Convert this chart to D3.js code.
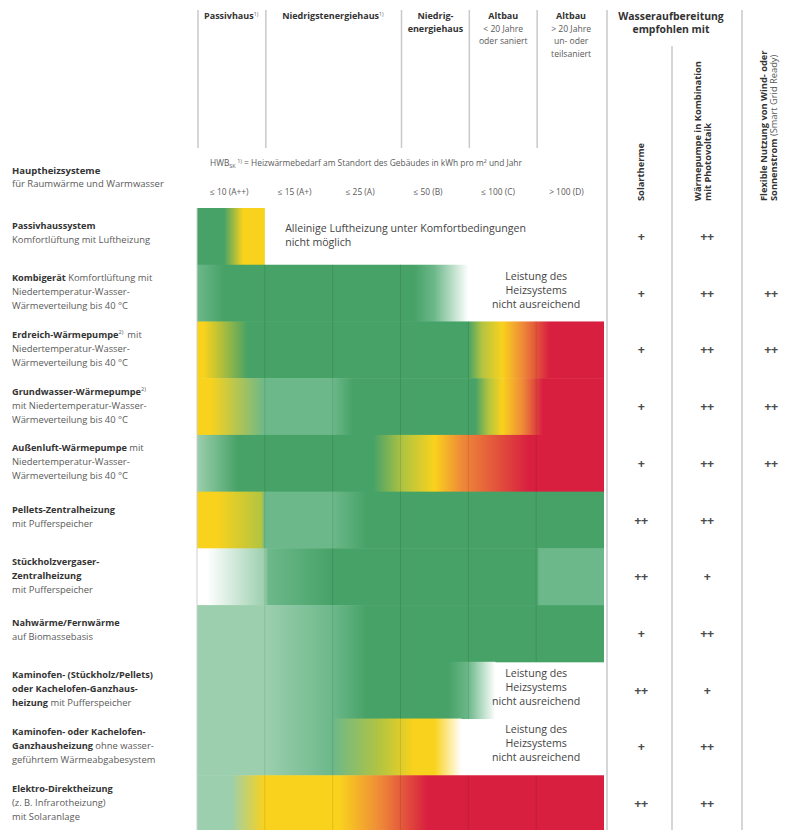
<!DOCTYPE html>
<html>
<head>
<meta charset="utf-8">
<script src="https://cdn.jsdelivr.net/npm/d3@7"></script>
<style>
  body { margin: 0; background: #fff; }
  svg { font-family: "Open Sans", sans-serif; }
</style>
</head>
<body>
<script>
// energy classes along the x axis
var hwbClasses = ["≤ 10 (A++)", "≤ 15 (A+)", "≤ 25 (A)", "≤ 50 (B)", "≤ 100 (C)", "> 100 (D)"];

// building type headers, with the class columns they cover
var buildingHeads = [
  ["**Passivhaus^1)"],
  ["**Niedrigstenergiehaus^1)"],
  ["**Niedrig-", "**energiehaus"],
  ["**Altbau", "< 20 Jahre", "oder saniert"],
  ["**Altbau", "> 20 Jahre", "un- oder", "teilsaniert"]
];
var buildingSpans = [[0, 1], [1, 3], [3, 4], [4, 5], [5, 6]];

// heating systems (rows)
var systems = [
  ["**Passivhaussystem", "Komfortlüftung mit Luftheizung"],
  ["**Kombigerät** Komfortlüftung mit", "Niedertemperatur-Wasser-", "Wärmeverteilung bis 40 °C"],
  ["**Erdreich-Wärmepumpe^2)** mit", "Niedertemperatur-Wasser-", "Wärmeverteilung bis 40 °C"],
  ["**Grundwasser-Wärmepumpe^2)", "mit Niedertemperatur-Wasser-", "Wärmeverteilung bis 40 °C"],
  ["**Außenluft-Wärmepumpe** mit", "Niedertemperatur-Wasser-", "Wärmeverteilung bis 40 °C"],
  ["**Pellets-Zentralheizung", "mit Pufferspeicher"],
  ["**Stückholzvergaser-", "**Zentralheizung", "mit Pufferspeicher"],
  ["**Nahwärme/Fernwärme", "auf Biomassebasis"],
  ["**Kaminofen- (Stückholz/Pellets)", "**oder Kachelofen-Ganzhaus-", "**heizung** mit Pufferspeicher"],
  ["**Kaminofen- oder Kachelofen-", "**Ganzhausheizung** ohne wasser-", "geführtem Wärmeabgabesystem"],
  ["**Elektro-Direktheizung", "(z. B. Infrarotheizung)", "mit Solaranlage"]
];

// suitability along the classes: [class position, rating]
var suitability = [
  [[0, "g"], [0.4, "g"], [0.68, "y"], [1, "y"]],
  [[0, "mg"], [0.4, "g"], [3.2, "g"], [3.5, "mg"], [4, "w"]],
  [[0, "y"], [0.1, "y"], [0.75, "g"], [4, "g"], [4.2, "yg"], [4.5, "y"], [4.8, "o"], [5.2, "r"], [6, "r"]],
  [[0, "y"], [0.2, "y"], [1, "mg"], [2, "mg"], [2.3, "g"], [4.1, "g"], [4.3, "yg"], [4.5, "y"], [4.8, "o"], [5.1, "r"], [6, "r"]],
  [[0, "lg"], [0.6, "g"], [2.6, "g"], [3.05, "yg"], [3.5, "y"], [3.9, "o"], [4.9, "r"], [6, "r"]],
  [[0, "y"], [0.3, "y"], [0.95, "yg"], [1, "mg"], [2, "mg"], [2.5, "g"], [6, "g"]],
  [[0, "w"], [0.15, "w"], [1, "lg"], [1.05, "mg"], [2, "g"], [5, "g"], [5.05, "mg"], [6, "mg"]],
  [[0, "lg"], [1, "lg"], [2, "mg"], [2.5, "g"], [6, "g"]],
  [[0, "lg"], [1, "lg"], [2, "mg"], [2.5, "g"], [3.7, "g"], [4, "mg"], [4.4, "w"]],
  [[0, "lg"], [1, "lg"], [2, "mg"], [2.7, "yg"], [3.2, "y"], [3.5, "y"], [3.9, "w"]],
  [[0, "lg"], [0.5, "lg"], [1, "y"], [2.1, "y"], [2.7, "o"], [3.4, "r"], [6, "r"]]
];

var ratingKeys = ["w", "lg", "mg", "g", "yg", "y", "o", "r"];
var ratingColors = ["#ffffff", "#9ccfae", "#6cb88a", "#47a267", "#b3c440", "#f9d21d", "#ee8a38", "#d81f3f"];

// notes written into empty parts of rows
var notes = [
  {row: 0, lines: ["Alleinige Luftheizung unter Komfortbedingungen", "nicht möglich"], anchor: "start", at: 1.3},
  {row: 1, lines: ["Leistung des", "Heizsystems", "nicht ausreichend"], anchor: "middle", at: 5},
  {row: 8, lines: ["Leistung des", "Heizsystems", "nicht ausreichend"], anchor: "middle", at: 5},
  {row: 9, lines: ["Leistung des", "Heizsystems", "nicht ausreichend"], anchor: "middle", at: 5}
];

// recommended combinations
var solarRating = ["+", "+", "+", "+", "+", "++", "++", "+", "++", "+", "++"];
var pvRating = ["++", "++", "++", "++", "++", "++", "+", "++", "+", "++", "++"];
var gridRating = ["", "++", "++", "++", "++", "", "", "", "", "", ""];

var width = 790;
var height = 830;

var svg = d3.select("body").append("svg")
            .attr("width", width)
            .attr("height", height);

var x = d3.scaleLinear().domain([0, 6]).range([197, 604]);
var y = d3.scaleBand().domain(d3.range(systems.length)).range([208, 832]);
var color = d3.scaleOrdinal().domain(ratingKeys).range(ratingColors);

// extra columns on the right
var extraCols = ["solar", "pv", "grid"];
var extraX = d3.scaleOrdinal().domain(extraCols).range([641, 707, 771]);

// write a line with **bold** parts and ^sup) superscripts
function richText(sel, str, size, boldSize) {
  var parts = str.split("**");
  parts.forEach(function(p, i) {
    if (p === "") return;
    var bold = i % 2 === 1;
    var bits = p.split(/(\^[^)]*\))/);
    bits.forEach(function(b) {
      if (b === "") return;
      if (b[0] === "^") {
        sel.append("tspan").text(b.slice(1))
           .attr("font-size", size * 0.6).attr("dy", -size * 0.4)
           .attr("font-weight", 400).attr("fill", "#555");
        sel.append("tspan").text("\u200a").attr("dy", size * 0.4);
      } else {
        sel.append("tspan").text(b)
           .attr("font-size", bold ? (boldSize || size) : size)
           .attr("font-weight", bold ? 700 : 400)
           .attr("fill", bold ? "#333" : "#5a5a5a");
      }
    });
  });
}

// ---- header lines
var headLines = [0, 1, 3, 4, 5];
svg.selectAll(".hline").data(headLines).enter().append("line")
   .attr("x1", function(d) { return x(d) + 1; })
   .attr("x2", function(d) { return x(d) + 1; })
   .attr("y1", 10).attr("y2", 148)
   .attr("stroke", "#c9c9c9").attr("stroke-width", 1.5);

svg.selectAll(".rline").data([607, 742]).enter().append("line")
   .attr("x1", function(d) { return d; }).attr("x2", function(d) { return d; })
   .attr("y1", 10).attr("y2", height)
   .attr("stroke", "#c9c9c9").attr("stroke-width", 1.5);
svg.append("line").attr("x1", 672).attr("x2", 672).attr("y1", 46).attr("y2", height)
   .attr("stroke", "#c9c9c9").attr("stroke-width", 1.5);

// building type labels
buildingHeads.forEach(function(lines, i) {
  var cx = (x(buildingSpans[i][0]) + x(buildingSpans[i][1])) / 2 + 1;
  lines.forEach(function(l, j) {
    var t = svg.append("text").attr("x", cx).attr("y", 19 + j * 12.5)
               .attr("text-anchor", "middle");
    richText(t, l, 8.6, 9);
  });
});

// HWB legend line
var hwb = svg.append("text").attr("x", 210).attr("y", 166).attr("font-size", 8.4).attr("fill", "#5a5a5a");
hwb.append("tspan").text("HWB");
hwb.append("tspan").text("SK").attr("font-size", 5.5).attr("dy", 2);
hwb.append("tspan").text(" 1)").attr("font-size", 5.5).attr("dy", -5.5);
hwb.append("tspan").text(" = Heizwärmebedarf am Standort des Gebäudes in kWh pro m² und Jahr").attr("dy", 3.5);

svg.selectAll(".cls").data(hwbClasses).enter().append("text")
   .attr("x", function(d, i) { return x(i) + 13; })
   .attr("y", 195).attr("font-size", 8.4).attr("fill", "#5a5a5a")
   .text(function(d) { return d; });

// right headers
["Wasseraufbereitung", "empfohlen mit"].forEach(function(l, j) {
  svg.append("text").attr("x", 671).attr("y", 20 + j * 12.5)
     .attr("text-anchor", "middle").attr("font-size", 10.4)
     .attr("font-weight", 700).attr("fill", "#333").text(l);
});
var rotHeads = [
  {x: 644, lines: ["**Solartherme"]},
  {x: 701, lines: ["**Wärmepumpe in Kombination", "**mit Photovoltaik"]},
  {x: 767, lines: ["**Flexible Nutzung von Wind- oder", "**Sonnenstrom** (Smart Grid Ready)"]}
];
rotHeads.forEach(function(h) {
  h.lines.forEach(function(l, j) {
    var t = svg.append("text")
               .attr("transform", "translate(" + (h.x + j * 10) + ",201) rotate(-90)");
    richText(t, l, 9.3, 9.3);
  });
});

// left header
var lh = svg.append("text").attr("x", 12).attr("y", 174);
richText(lh, "**Hauptheizsysteme", 9.5, 9.5);
var lh2 = svg.append("text").attr("x", 12).attr("y", 187);
richText(lh2, "für Raumwärme und Warmwasser", 9.5);

// ---- gradient rows
var defs = svg.append("defs");
suitability.forEach(function(stops, i) {
  var g = defs.append("linearGradient").attr("id", "row" + i)
              .attr("gradientUnits", "userSpaceOnUse")
              .attr("x1", x(0)).attr("x2", x(6)).attr("y1", 0).attr("y2", 0);
  g.selectAll("stop").data(stops).enter().append("stop")
   .attr("offset", function(d) { return d[0] / 6; })
   .attr("stop-color", function(d) { return color(d[1]); });
});

svg.selectAll(".cell").data(suitability).enter().append("rect")
   .attr("x", x(0))
   .attr("y", function(d, i) { return y(i); })
   .attr("width", function(d) { return x(d[d.length - 1][0]) - x(0); })
   .attr("height", y.bandwidth() + 0.5)
   .attr("fill", function(d, i) { return "url(#row" + i + ")"; });

// faint class dividers on coloured parts
suitability.forEach(function(stops, i) {
  var end = stops[stops.length - 1][0];
  var ks = [1, 2, 3, 4, 5].filter(function(k) { return k < end; });
  svg.selectAll(".div" + i).data(ks).enter().append("line")
     .attr("x1", function(k) { return x(k); }).attr("x2", function(k) { return x(k); })
     .attr("y1", y(i)).attr("y2", y(i) + y.bandwidth())
     .attr("stroke", "#000").attr("stroke-opacity", 0.1).attr("stroke-width", 1);
});
svg.append("line").attr("x1", x(0)).attr("x2", x(0)).attr("y1", y(0)).attr("y2", height)
   .attr("stroke", "#cfcfcf").attr("stroke-width", 1);

// notes
notes.forEach(function(n) {
  var n0 = n.lines.length;
  n.lines.forEach(function(l, j) {
    svg.append("text")
       .attr("x", x(n.at))
       .attr("y", y(n.row) + y.bandwidth() / 2 - (n0 - 1) * 7 + 0.5 + j * 14 + (n0 === 2 ? 2 : 0))
       .attr("text-anchor", n.anchor).attr("font-size", 10.6).attr("fill", "#444")
       .text(l);
  });
});

// row labels
systems.forEach(function(lines, i) {
  var n = lines.length;
  lines.forEach(function(l, j) {
    var t = svg.append("text").attr("x", 12)
               .attr("y", y(i) + y.bandwidth() / 2 - (n - 1) * 7 + 2 + j * 14 - (n === 2 ? 2 : 0));
    richText(t, l, 9.4, 9.2);
  });
});

// ratings
var ratingSets = {solar: solarRating, pv: pvRating, grid: gridRating};
extraCols.forEach(function(c) {
  svg.selectAll(".r-" + c).data(ratingSets[c]).enter().append("text")
     .attr("x", extraX(c))
     .attr("y", function(d, i) { return y(i) + y.bandwidth() / 2 + 4.5; })
     .attr("text-anchor", "middle").attr("font-size", 12.5).attr("font-weight", 700)
     .attr("fill", "#4a4a4a").attr("letter-spacing", -0.5)
     .text(function(d) { return d; });
});
</script>
</body>
</html>
